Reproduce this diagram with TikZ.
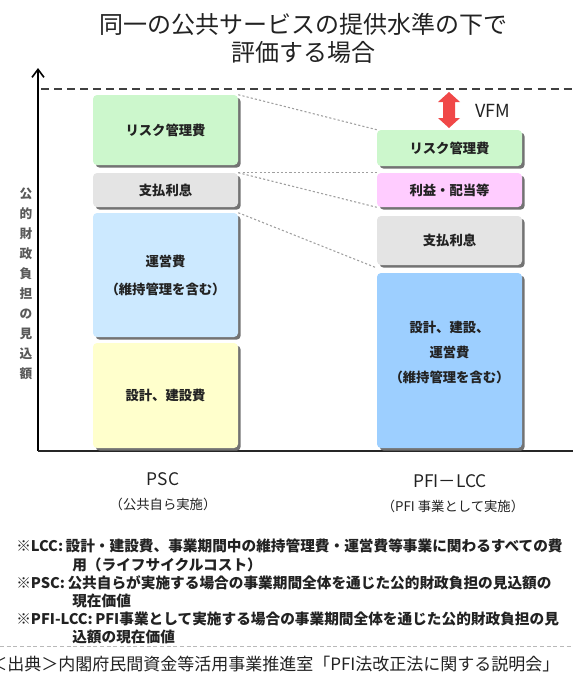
\documentclass[tikz,border=0pt]{standalone}
\usepackage{fontspec}
\setmainfont{Noto Sans CJK JP}
\usetikzlibrary{shadows,arrows.meta}
\definecolor{cgreen}{HTML}{CCF7CC}
\definecolor{cgray}{HTML}{E4E4E4}
\definecolor{clblue}{HTML}{CCE9FF}
\definecolor{cyellow}{HTML}{FFFFCC}
\definecolor{cpink}{HTML}{FFCCFF}
\definecolor{cblue}{HTML}{9DCFFF}
\definecolor{cred}{HTML}{F04848}
\definecolor{ctext}{HTML}{222222}
\newcommand\bxf{\bfseries\fontsize{10pt}{14pt}\selectfont}
\begin{document}
\begin{tikzpicture}[x=0.75pt,y=-0.75pt,
  box/.style={rounded corners=3pt, minimum width=108.75pt, inner sep=0pt, align=center,
    font=\bxf, text=ctext,
    drop shadow={shadow xshift=2pt, shadow yshift=-2pt, fill=black!55, opacity=1}},
  conn/.style={draw=gray!75, line width=0.8pt, dash pattern=on 1.6pt off 1.6pt},
  note/.style={anchor=west, inner sep=0pt, font=\bfseries\fontsize{11pt}{13pt}\selectfont, text=ctext},
  lbl/.style={inner sep=0pt, text=ctext, align=center}
]
\useasboundingbox (0,0) rectangle (573,675);
% title
\node[lbl, font=\fontsize{18pt}{21pt}\selectfont] (title) at (303,38) {同一の公共サービスの提供水準の下で\\評価する場合};
% axes
\coordinate (origin) at (38,451);
\coordinate (ytop) at (38,68);
\coordinate (xend) at (573,451);
\draw[line width=1.2pt, -{Straight Barb[length=6pt,width=9pt,line width=1.2pt]}] (origin) -- (ytop);
\draw[line width=1.6pt, black!85] (origin) -- (xend);
\coordinate (dl) at (41,89);
\coordinate (dr) at (573,89);
\draw[line width=1.8pt, black!75, dash pattern=on 6pt off 3.8pt] (dl) -- (dr);
% y label
\node[lbl, text=black!65, font=\bfseries\fontsize{9.5pt}{15pt}\selectfont] (ylabel) at (26,283.5)
  {公\\的\\財\\政\\負\\担\\の\\見\\込\\額};
% left boxes
\node[box, fill=cgreen, minimum height=52.5pt] (L1) at (165.5,130) {リスク管理費};
\node[box, fill=cgray, minimum height=25.5pt] (L2) at (165.5,190) {支払利息};
\node[box, fill=clblue, minimum height=93pt, font=\bfseries\fontsize{10pt}{21pt}\selectfont] (L3) at (165.5,275) {運営費\\（維持管理を含む）};
\node[box, fill=cyellow, minimum height=78.75pt] (L4) at (165.5,395.5) {設計、建設費};
% right boxes
\node[box, fill=cgreen, minimum height=27pt] (R1) at (449.5,148) {リスク管理費};
\node[box, fill=cpink, minimum height=25.5pt] (R2) at (449.5,190) {利益・配当等};
\node[box, fill=cgray, minimum height=36.75pt] (R3) at (449.5,240.5) {支払利息};
\node[box, fill=cblue, minimum height=131.25pt, font=\bfseries\fontsize{10pt}{18.75pt}\selectfont] (R4) at (449.5,360.5) {設計、建設、\\運営費\\（維持管理を含む）\\[-5.5pt]\mbox{}};
% connectors
\draw[conn] (L1.north east) -- (R1.north west);
\draw[conn] (L2.north east) -- (R2.north west);
\draw[conn] (L2.north east) -- (R2.south west);
\draw[conn] (L3.north east) -- ([yshift=-2pt]R3.south west);
% VFM arrow
\fill[cred] (449,92) -- (460,102) -- (455,102) -- (455,118) -- (460,118) -- (449,128)
  -- (438,118) -- (443,118) -- (443,102) -- (438,102) -- cycle;
\node[lbl, font=\fontsize{13.5pt}{16pt}\selectfont] (vfm) at (493,111) {VFM};
% column labels
\node[lbl, font=\fontsize{13pt}{16pt}\selectfont] (psc) at (163,479) {PSC};
\node[lbl, font=\fontsize{10pt}{12pt}\selectfont] (pscs) at (163,504) {（公共自ら実施）};
\node[lbl, font=\fontsize{13pt}{16pt}\selectfont] (pfi) at (450,481) {PFI－LCC};
\node[lbl, font=\fontsize{10pt}{12pt}\selectfont] (pfis) at (453,506) {（PFI 事業として実施）};
% notes
\node[note] (n1) at (16,546) {※LCC:\,設計・建設費、事業期間中の維持管理費・運営費等事業に関わるすべての費};
\node[note] (n2) at (72,565) {用（ライフサイクルコスト）};
\node[note] (n3) at (16,583) {※PSC:\,公共自らが実施する場合の事業期間全体を通じた公的財政負担の見込額の};
\node[note] (n4) at (72,601) {現在価値};
\node[note] (n5) at (16,619) {※PFI-LCC:\,PFI事業として実施する場合の事業期間全体を通じた公的財政負担の見};
\node[note] (n6) at (72,637) {込額の現在価値};
\coordinate (sl) at (0,646);
\coordinate (sr) at (573,646);
\draw[gray!55, line width=0.7pt, dash pattern=on 3pt off 2pt] (sl) -- (sr);
\node[anchor=west, inner sep=0pt, text=ctext, font=\fontsize{12.75pt}{15pt}\selectfont] (src) at (-10,664) {＜出典＞内閣府民間資金等活用事業推進室「PFI法改正法に関する説明会」};
\end{tikzpicture}
\end{document}
